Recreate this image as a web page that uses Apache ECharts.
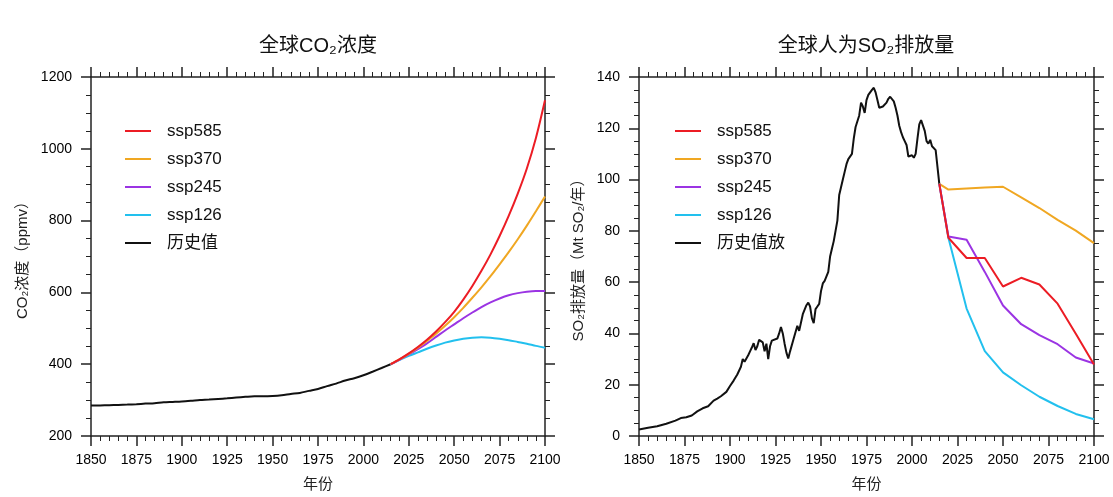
<!DOCTYPE html>
<html><head><meta charset="utf-8">
<script src="https://cdn.jsdelivr.net/npm/echarts@6/dist/echarts.min.js"></script>
<style>html,body{margin:0;padding:0;background:#fff}#c{width:1113px;height:497px}</style>
</head><body><div id="c"></div>
<script>
// ---------- CO2 concentration (ppmv) ----------
const co2HistYears = [1850,1855,1860,1865,1870,1875,1880,1885,1890,1895,1900,1905,1910,1915,1920,1925,1930,1935,1940,1945,1950,1955,1960,1965,1970,1975,1980,1985,1990,1995,2000,2005,2010,2015];
const co2HistValues = [284.7,285.2,286.0,286.6,287.4,288.6,290.2,291.5,294.0,295.0,296.1,297.9,300.0,301.4,303.2,305.0,307.2,309.0,310.5,310.4,311.3,313.4,317.0,320.0,325.7,331.1,338.9,346.0,354.4,361.0,369.1,379.0,389.3,399.9];
const co2FutureYears = [2015,2020,2025,2030,2035,2040,2045,2050,2055,2060,2065,2070,2075,2080,2085,2090,2095,2100];
const co2Ssp585 = [399.9,414,430,448,468,491,517,546,580,618,660,706,757,813,875,945,1030,1135];
const co2Ssp370 = [399.9,414,429,446,465,485,507,531,557,585,614,645,678,712,748,786,826,867];
const co2Ssp245 = [399.9,413,427,442,458,476,494,511,528,544,559,572,583,592,598,602,604,604];
const co2Ssp126 = [399.9,412,423,433,443,452,460,466,471,474,475,474,471,467,462,457,451,446];

// ---------- Anthropogenic SO2 emissions (Mt SO2/yr) ----------
const so2HistYears = [1850,1855,1860,1865,1870,1873,1876,1879,1882,1885,1888,1891,1893,1895,1898,1900,1902,1904,1906,1907,1908,1910,1911,1912,1913,1914,1915,1916,1917,1918,1919,1920,1921,1922,1923,1924,1926,1927,1928,1929,1930,1931,1932,1933,1935,1937,1938,1940,1942,1943,1944,1945,1946,1947,1948,1949,1950,1951,1952,1953,1954,1955,1956,1957,1958,1959,1960,1961,1962,1963,1964,1965,1966,1967,1968,1969,1970,1971,1972,1973,1974,1975,1976,1977,1978,1979,1980,1981,1982,1983,1984,1985,1986,1987,1988,1989,1990,1991,1992,1993,1994,1995,1996,1997,1998,1999,2000,2001,2002,2003,2004,2005,2006,2007,2008,2009,2010,2011,2012,2013,2014,2015];
const so2HistValues = [2.5,3.2,3.8,4.8,6.0,7.0,7.3,8.0,9.6,10.8,11.6,13.8,14.6,15.5,17.2,19.5,21.6,24.0,27.0,30.0,29.0,31.5,33.0,34.5,36.2,33.5,35.0,37.5,38.0,36.5,33.0,36.0,30.0,35.0,37.2,37.5,38.0,40.0,42.5,40.0,36.0,32.5,30.2,33.0,38.0,43.0,41.0,47.5,51.0,52.0,50.5,46.0,44.0,49.5,50.5,51.5,56.5,59.5,60.5,61.0,64.0,70.0,73.0,76.0,80.0,84.0,94.0,97.0,100.0,103.0,106.0,108.0,107.5,110.0,116.0,120.5,121.0,125.0,130.0,128.5,126.0,131.0,133.0,133.5,135.0,135.8,134.0,131.0,128.0,127.5,128.5,128.5,130.0,131.5,132.3,132.0,130.5,128.0,125.0,121.0,118.5,116.5,115.0,113.5,109.0,108.5,109.5,108.5,110.0,116.0,121.5,123.2,122.5,119.0,115.0,114.0,115.5,113.0,113.0,111.5,111.0,98.3];
const so2FutureYears = [2015,2020,2030,2040,2050,2060,2070,2080,2090,2100];
const so2Ssp585 = [98.3,77.3,69.4,69.4,58.3,61.7,59.1,51.6,39.9,27.9];
const so2Ssp370 = [98.3,96.1,96.5,96.9,97.2,93.1,88.9,84.3,80.1,75.2];
const so2Ssp245 = [98.3,77.8,76.5,64.0,50.9,43.6,39.3,35.8,30.6,28.3];
const so2Ssp126 = [98.3,77.3,49.7,33.1,24.8,19.8,15.3,11.7,8.6,6.5];

const yearMin = 1850, yearMax = 2100, yearStep = 25;
const co2Min = 200, co2Max = 1200, co2Step = 200;
const so2Min = 0, so2Max = 140, so2Step = 20;

const FONT = 'Liberation Sans, Noto Sans CJK SC, sans-serif';
const COL = {ssp585:'#ec1c24', ssp370:'#f0a722', ssp245:'#9b34e3', ssp126:'#22c0ee', hist:'#111111'};
const zip = (xs, ys) => xs.map((x, i) => [x, ys[i]]);
const plain = v => String(v);

function xAxisPair(grid) {
  const base = {
    type:'value', gridIndex:grid, min:yearMin, max:yearMax, interval:yearStep,
    splitLine:{show:false},
    axisLine:{show:true, onZero:false, lineStyle:{color:'#222', width:1.5}},
    axisTick:{show:true, length:10, lineStyle:{color:'#222', width:1.5}},
    minorTick:{show:true, splitNumber:5, length:5, lineStyle:{color:'#222', width:1}}
  };
  return [
    Object.assign({}, base, {position:'bottom',
      axisLabel:{show:true, margin:17, fontSize:14, color:'#000', fontFamily:FONT, formatter:plain},
      name:'年份', nameLocation:'middle', nameGap:41,
      nameTextStyle:{fontSize:15, color:'#222', fontFamily:FONT}}),
    Object.assign({}, base, {position:'top', axisLabel:{show:false}})
  ];
}
function yAxisPair(grid, mn, mx, st, name, gap) {
  const base = {
    type:'value', gridIndex:grid, min:mn, max:mx, interval:st,
    splitLine:{show:false},
    axisLine:{show:true, onZero:false, lineStyle:{color:'#222', width:1.5}},
    axisTick:{show:true, length:10, lineStyle:{color:'#222', width:1.5}},
    minorTick:{show:true, splitNumber:4, length:5, lineStyle:{color:'#222', width:1}}
  };
  return [
    Object.assign({}, base, {position:'left',
      axisLabel:{show:true, margin:19, fontSize:14, color:'#000', fontFamily:FONT, formatter:plain},
      name:name, nameLocation:'middle', nameGap:gap,
      nameTextStyle:{fontSize:15, color:'#222', fontFamily:FONT}}),
    Object.assign({}, base, {position:'right', axisLabel:{show:false}})
  ];
}
function line(name, xi, yi, data, color, smooth) {
  return {type:'line', name:name, xAxisIndex:xi, yAxisIndex:yi, data:data, smooth:smooth || false,
    symbol:'none', lineStyle:{color:color, width:2}, itemStyle:{color:color}, z:3};
}
function legend(left, names) {
  return {orient:'vertical', left:left, top:116, icon:'rect', itemWidth:26, itemHeight:2, itemGap:8,
    selectedMode:false, data:names,
    textStyle:{fontSize:17, color:'#111', fontFamily:FONT, padding:[0,0,0,11], lineHeight:20}};
}

const xa = xAxisPair(0).concat(xAxisPair(1));
const ya = yAxisPair(0, co2Min, co2Max, co2Step, 'CO₂浓度（ppmv）', 61)
  .concat(yAxisPair(1, so2Min, so2Max, so2Step, 'SO₂排放量（Mt SO₂/年）', 53));

const option = {
  animation:false,
  backgroundColor:'#ffffff',
  title:[
    {text:'全球CO₂浓度', left:318, top:36, padding:0, textAlign:'center',
      textStyle:{fontSize:20, fontWeight:'normal', color:'#111', fontFamily:FONT}},
    {text:'全球人为SO₂排放量', left:866, top:36, padding:0, textAlign:'center',
      textStyle:{fontSize:20, fontWeight:'normal', color:'#111', fontFamily:FONT}}
  ],
  grid:[
    {left:91, top:77, width:454, height:359},
    {left:639, top:77, width:455, height:359}
  ],
  legend:[
    legend(120, ['ssp585','ssp370','ssp245','ssp126','历史值']),
    legend(670, ['ssp585','ssp370','ssp245','ssp126','历史值放'])
  ],
  xAxis:xa,
  yAxis:ya,
  series:[
    line('历史值', 0, 0, zip(co2HistYears, co2HistValues), COL.hist, 0.3),
    line('ssp126', 0, 0, zip(co2FutureYears, co2Ssp126), COL.ssp126, 0.3),
    line('ssp245', 0, 0, zip(co2FutureYears, co2Ssp245), COL.ssp245, 0.3),
    line('ssp370', 0, 0, zip(co2FutureYears, co2Ssp370), COL.ssp370, 0.3),
    line('ssp585', 0, 0, zip(co2FutureYears, co2Ssp585), COL.ssp585, 0.3),
    line('历史值放', 2, 2, zip(so2HistYears, so2HistValues), COL.hist),
    line('ssp370', 2, 2, zip(so2FutureYears, so2Ssp370), COL.ssp370),
    line('ssp126', 2, 2, zip(so2FutureYears, so2Ssp126), COL.ssp126),
    line('ssp245', 2, 2, zip(so2FutureYears, so2Ssp245), COL.ssp245),
    line('ssp585', 2, 2, zip(so2FutureYears, so2Ssp585), COL.ssp585)
  ]
};
const chart = echarts.init(document.getElementById('c'), null, {renderer:'canvas'});
chart.setOption(option);
</script></body></html>
